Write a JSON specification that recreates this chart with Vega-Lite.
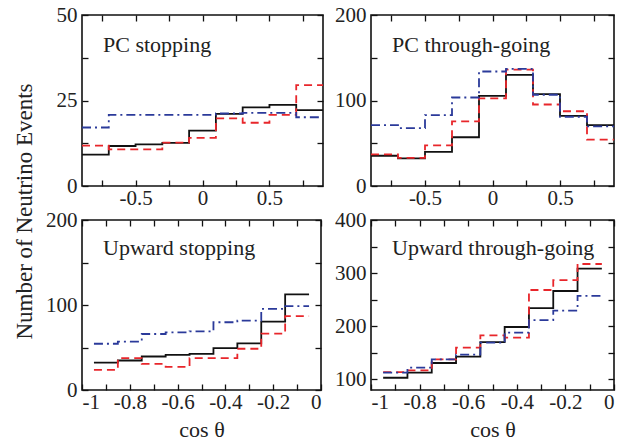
{
  "$schema": "https://vega.github.io/schema/vega-lite/v6.json",
  "padding": {"left": 12, "top": 3, "right": 5, "bottom": 5},
  "bounds": "flush",
  "columns": 2,
  "spacing": {"row": 34, "column": 48},
  "config": {
    "view": {"stroke": "#111", "strokeWidth": 1.6},
    "font": "Liberation Serif",
    "axis": {"domain": false, "grid": false, "tickColor": "#111", "tickWidth": 1.3, "tickSize": -6, "labelFont": "Liberation Serif", "labelFontSize": 21, "labelColor": "#222", "titleFont": "Liberation Serif", "titleFontWeight": "normal", "titleColor": "#222"},
    "axisX": {"labelPadding": 7},
    "axisY": {"labelPadding": 11},
    "title": {"font": "Liberation Serif", "fontSize": 22, "fontWeight": "normal", "color": "#222", "anchor": "start", "frame": "group", "orient": "top", "offset": -53, "dx": 21, "baseline": "alphabetic"}
  },
  "datasets": {
    "tl": [
      {"x": -0.9, "y": 9.2, "s": "Data"}, {"x": -0.7, "y": 11.7, "s": "Data"}, {"x": -0.5, "y": 12.2, "s": "Data"}, {"x": -0.3, "y": 12.6, "s": "Data"}, {"x": -0.1, "y": 16.2, "s": "Data"}, {"x": 0.1, "y": 21.1, "s": "Data"}, {"x": 0.3, "y": 23.0, "s": "Data"}, {"x": 0.5, "y": 23.7, "s": "Data"}, {"x": 0.7, "y": 22.2, "s": "Data"}, {"x": 0.9, "y": 22.2, "s": "Data"},
      {"x": -0.9, "y": 11.8, "s": "Osc"}, {"x": -0.7, "y": 10.7, "s": "Osc"}, {"x": -0.5, "y": 10.7, "s": "Osc"}, {"x": -0.3, "y": 12.7, "s": "Osc"}, {"x": -0.1, "y": 14.1, "s": "Osc"}, {"x": 0.1, "y": 19.8, "s": "Osc"}, {"x": 0.3, "y": 18.5, "s": "Osc"}, {"x": 0.5, "y": 20.8, "s": "Osc"}, {"x": 0.7, "y": 29.5, "s": "Osc"}, {"x": 0.9, "y": 29.5, "s": "Osc"},
      {"x": -0.9, "y": 17.1, "s": "NoOsc"}, {"x": -0.7, "y": 20.8, "s": "NoOsc"}, {"x": -0.5, "y": 20.8, "s": "NoOsc"}, {"x": -0.3, "y": 20.8, "s": "NoOsc"}, {"x": -0.1, "y": 20.8, "s": "NoOsc"}, {"x": 0.1, "y": 21.2, "s": "NoOsc"}, {"x": 0.3, "y": 21.4, "s": "NoOsc"}, {"x": 0.5, "y": 21.4, "s": "NoOsc"}, {"x": 0.7, "y": 20.1, "s": "NoOsc"}, {"x": 0.9, "y": 20.1, "s": "NoOsc"}
    ],
    "tr": [
      {"x": -0.9, "y": 35.4, "s": "Data"}, {"x": -0.7, "y": 32.3, "s": "Data"}, {"x": -0.5, "y": 39.8, "s": "Data"}, {"x": -0.3, "y": 57, "s": "Data"}, {"x": -0.1, "y": 105.5, "s": "Data"}, {"x": 0.1, "y": 130, "s": "Data"}, {"x": 0.3, "y": 107.5, "s": "Data"}, {"x": 0.5, "y": 82, "s": "Data"}, {"x": 0.7, "y": 71.3, "s": "Data"}, {"x": 0.9, "y": 71.3, "s": "Data"},
      {"x": -0.9, "y": 37, "s": "Osc"}, {"x": -0.7, "y": 33, "s": "Osc"}, {"x": -0.5, "y": 47.6, "s": "Osc"}, {"x": -0.3, "y": 75.6, "s": "Osc"}, {"x": -0.1, "y": 102.4, "s": "Osc"}, {"x": 0.1, "y": 136, "s": "Osc"}, {"x": 0.3, "y": 95.3, "s": "Osc"}, {"x": 0.5, "y": 87.4, "s": "Osc"}, {"x": 0.7, "y": 54.3, "s": "Osc"}, {"x": 0.9, "y": 54.3, "s": "Osc"},
      {"x": -0.9, "y": 71.3, "s": "NoOsc"}, {"x": -0.7, "y": 67.7, "s": "NoOsc"}, {"x": -0.5, "y": 83, "s": "NoOsc"}, {"x": -0.3, "y": 103.5, "s": "NoOsc"}, {"x": -0.1, "y": 133.9, "s": "NoOsc"}, {"x": 0.1, "y": 137, "s": "NoOsc"}, {"x": 0.3, "y": 106.7, "s": "NoOsc"}, {"x": 0.5, "y": 81, "s": "NoOsc"}, {"x": 0.7, "y": 69.7, "s": "NoOsc"}, {"x": 0.9, "y": 69.7, "s": "NoOsc"}
    ],
    "bl": [
      {"x": -0.95, "y": 32.3, "s": "Data"}, {"x": -0.85, "y": 34.7, "s": "Data"}, {"x": -0.75, "y": 39.4, "s": "Data"}, {"x": -0.65, "y": 41.4, "s": "Data"}, {"x": -0.55, "y": 42.6, "s": "Data"}, {"x": -0.45, "y": 49.3, "s": "Data"}, {"x": -0.35, "y": 54.8, "s": "Data"}, {"x": -0.25, "y": 80.5, "s": "Data"}, {"x": -0.15, "y": 112.4, "s": "Data"}, {"x": -0.05, "y": 112.4, "s": "Data"},
      {"x": -0.95, "y": 23.7, "s": "Osc"}, {"x": -0.85, "y": 37.5, "s": "Osc"}, {"x": -0.75, "y": 30.8, "s": "Osc"}, {"x": -0.65, "y": 27.2, "s": "Osc"}, {"x": -0.55, "y": 37.5, "s": "Osc"}, {"x": -0.45, "y": 37.5, "s": "Osc"}, {"x": -0.35, "y": 48.5, "s": "Osc"}, {"x": -0.25, "y": 66.3, "s": "Osc"}, {"x": -0.15, "y": 86.8, "s": "Osc"}, {"x": -0.05, "y": 86.8, "s": "Osc"},
      {"x": -0.95, "y": 54.4, "s": "NoOsc"}, {"x": -0.85, "y": 56.8, "s": "NoOsc"}, {"x": -0.75, "y": 65.9, "s": "NoOsc"}, {"x": -0.65, "y": 67.9, "s": "NoOsc"}, {"x": -0.55, "y": 69, "s": "NoOsc"}, {"x": -0.45, "y": 79.7, "s": "NoOsc"}, {"x": -0.35, "y": 81.7, "s": "NoOsc"}, {"x": -0.25, "y": 95.5, "s": "NoOsc"}, {"x": -0.15, "y": 98.6, "s": "NoOsc"}, {"x": -0.05, "y": 98.6, "s": "NoOsc"}
    ],
    "br": [
      {"x": -0.95, "y": 103.1, "s": "Data"}, {"x": -0.85, "y": 112.6, "s": "Data"}, {"x": -0.75, "y": 130.8, "s": "Data"}, {"x": -0.65, "y": 142.7, "s": "Data"}, {"x": -0.55, "y": 170.3, "s": "Data"}, {"x": -0.45, "y": 198.6, "s": "Data"}, {"x": -0.35, "y": 234.3, "s": "Data"}, {"x": -0.25, "y": 266.4, "s": "Data"}, {"x": -0.15, "y": 308.4, "s": "Data"}, {"x": -0.05, "y": 308.4, "s": "Data"},
      {"x": -0.95, "y": 113.8, "s": "Osc"}, {"x": -0.85, "y": 117, "s": "Osc"}, {"x": -0.75, "y": 137.7, "s": "Osc"}, {"x": -0.65, "y": 159.6, "s": "Osc"}, {"x": -0.55, "y": 182.9, "s": "Osc"}, {"x": -0.45, "y": 178.5, "s": "Osc"}, {"x": -0.35, "y": 268.2, "s": "Osc"}, {"x": -0.25, "y": 287, "s": "Osc"}, {"x": -0.15, "y": 317.2, "s": "Osc"}, {"x": -0.05, "y": 317.2, "s": "Osc"},
      {"x": -0.95, "y": 112.6, "s": "NoOsc"}, {"x": -0.85, "y": 122, "s": "NoOsc"}, {"x": -0.75, "y": 137.7, "s": "NoOsc"}, {"x": -0.65, "y": 146.5, "s": "NoOsc"}, {"x": -0.55, "y": 169, "s": "NoOsc"}, {"x": -0.45, "y": 187.9, "s": "NoOsc"}, {"x": -0.35, "y": 211.7, "s": "NoOsc"}, {"x": -0.25, "y": 229.3, "s": "NoOsc"}, {"x": -0.15, "y": 257, "s": "NoOsc"}, {"x": -0.05, "y": 257, "s": "NoOsc"}
    ]
  },
  "concat": [
    {
      "width": 241, "height": 171,
      "data": {"name": "tl"},
      "title": {"text": "PC stopping"},
      "layer": [
        {
          "mark": {"type": "line", "interpolate": "step-after", "strokeWidth": 1.8},
          "encoding": {
            "x": {"field": "x", "type": "quantitative", "scale": {"domain": [-0.9, 0.9], "nice": false, "zero": false}, "axis": {"orient": "bottom", "title": null, "values": [-0.75, -0.5, -0.25, 0, 0.25, 0.5, 0.75], "labelExpr": "datum.value == -0.5 ? '-0.5' : datum.value == 0 ? '0' : datum.value == 0.5 ? '0.5' : ''"}},
            "y": {"field": "y", "type": "quantitative", "scale": {"domain": [0, 50], "nice": false}, "axis": {"orient": "left", "values": [0, 12.5, 25, 37.5, 50], "labelExpr": "datum.value % 25 == 0 ? '' + datum.value : ''", "title": "Number of Neutrino Events", "titleFontSize": 23, "titleX": -58, "titleY": 196, "titleAngle": -90, "titleAlign": "center", "titleBaseline": "middle"}},
            "color": {"field": "s", "type": "nominal", "scale": {"domain": ["Data", "Osc", "NoOsc"], "range": ["#111111", "#e8262b", "#2b3a9a"]}, "legend": null},
            "strokeDash": {"field": "s", "type": "nominal", "scale": {"domain": ["Data", "Osc", "NoOsc"], "range": [[1, 0], [8, 5], [9, 4, 2, 4]]}, "legend": null}
          }
        },
        {
          "mark": {"type": "line", "opacity": 0},
          "encoding": {
            "x": {"field": "x", "type": "quantitative", "axis": {"orient": "top", "title": null, "labels": false, "values": [-0.75, -0.5, -0.25, 0, 0.25, 0.5, 0.75]}},
            "y": {"field": "y", "type": "quantitative", "axis": {"orient": "right", "title": null, "labels": false, "values": [0, 12.5, 25, 37.5, 50]}}
          }
        }
      ]
    },
    {
      "width": 243, "height": 171,
      "data": {"name": "tr"},
      "title": {"text": "PC through-going"},
      "layer": [
        {
          "mark": {"type": "line", "interpolate": "step-after", "strokeWidth": 1.8},
          "encoding": {
            "x": {"field": "x", "type": "quantitative", "scale": {"domain": [-0.9, 0.9], "nice": false, "zero": false}, "axis": {"orient": "bottom", "title": null, "values": [-0.75, -0.5, -0.25, 0, 0.25, 0.5, 0.75], "labelExpr": "datum.value == -0.5 ? '-0.5' : datum.value == 0 ? '0' : datum.value == 0.5 ? '0.5' : ''"}},
            "y": {"field": "y", "type": "quantitative", "scale": {"domain": [0, 200], "nice": false}, "axis": {"orient": "left", "title": null, "values": [0, 50, 100, 150, 200], "labelExpr": "datum.value % 100 == 0 ? '' + datum.value : ''"}},
            "color": {"field": "s", "type": "nominal", "scale": {"domain": ["Data", "Osc", "NoOsc"], "range": ["#111111", "#e8262b", "#2b3a9a"]}, "legend": null},
            "strokeDash": {"field": "s", "type": "nominal", "scale": {"domain": ["Data", "Osc", "NoOsc"], "range": [[1, 0], [8, 5], [9, 4, 2, 4]]}, "legend": null}
          }
        },
        {
          "mark": {"type": "line", "opacity": 0},
          "encoding": {
            "x": {"field": "x", "type": "quantitative", "axis": {"orient": "top", "title": null, "labels": false, "values": [-0.75, -0.5, -0.25, 0, 0.25, 0.5, 0.75]}},
            "y": {"field": "y", "type": "quantitative", "axis": {"orient": "right", "title": null, "labels": false, "values": [0, 50, 100, 150, 200]}}
          }
        }
      ]
    },
    {
      "width": 239, "height": 170,
      "data": {"name": "bl"},
      "title": {"text": "Upward stopping", "offset": -51},
      "layer": [
        {
          "mark": {"type": "line", "interpolate": "step-after", "strokeWidth": 1.8},
          "encoding": {
            "x": {"field": "x", "type": "quantitative", "scale": {"domain": [-1, 0], "nice": false, "zero": false}, "axis": {"orient": "bottom", "title": "cos θ", "titleFontSize": 22, "titleY": 46, "titleBaseline": "alphabetic", "values": [-1, -0.9, -0.8, -0.7, -0.6, -0.5, -0.4, -0.3, -0.2, -0.1, 0], "labelExpr": "datum.value == -1 ? '-1' : datum.value == -0.8 ? '-0.8' : datum.value == -0.6 ? '-0.6' : datum.value == -0.4 ? '-0.4' : datum.value == -0.2 ? '-0.2' : datum.value == 0 ? '0' : ''"}},
            "y": {"field": "y", "type": "quantitative", "scale": {"domain": [0, 200], "nice": false}, "axis": {"orient": "left", "title": null, "values": [0, 50, 100, 150, 200], "labelExpr": "datum.value % 100 == 0 ? '' + datum.value : ''"}},
            "color": {"field": "s", "type": "nominal", "scale": {"domain": ["Data", "Osc", "NoOsc"], "range": ["#111111", "#e8262b", "#2b3a9a"]}, "legend": null},
            "strokeDash": {"field": "s", "type": "nominal", "scale": {"domain": ["Data", "Osc", "NoOsc"], "range": [[1, 0], [8, 5], [9, 4, 2, 4]]}, "legend": null}
          }
        },
        {
          "mark": {"type": "line", "opacity": 0},
          "encoding": {
            "x": {"field": "x", "type": "quantitative", "axis": {"orient": "top", "title": null, "labels": false, "values": [-1, -0.9, -0.8, -0.7, -0.6, -0.5, -0.4, -0.3, -0.2, -0.1, 0]}},
            "y": {"field": "y", "type": "quantitative", "axis": {"orient": "right", "title": null, "labels": false, "values": [0, 50, 100, 150, 200]}}
          }
        }
      ]
    },
    {
      "width": 243, "height": 170,
      "data": {"name": "br"},
      "title": {"text": "Upward through-going", "offset": -51},
      "layer": [
        {
          "mark": {"type": "line", "interpolate": "step-after", "strokeWidth": 1.8},
          "encoding": {
            "x": {"field": "x", "type": "quantitative", "scale": {"domain": [-1, 0], "nice": false, "zero": false}, "axis": {"orient": "bottom", "title": "cos θ", "titleFontSize": 22, "titleY": 46, "titleBaseline": "alphabetic", "values": [-1, -0.9, -0.8, -0.7, -0.6, -0.5, -0.4, -0.3, -0.2, -0.1, 0], "labelExpr": "datum.value == -1 ? '-1' : datum.value == -0.8 ? '-0.8' : datum.value == -0.6 ? '-0.6' : datum.value == -0.4 ? '-0.4' : datum.value == -0.2 ? '-0.2' : datum.value == 0 ? '0' : ''"}},
            "y": {"field": "y", "type": "quantitative", "scale": {"domain": [80, 400], "nice": false, "zero": false}, "axis": {"orient": "left", "title": null, "values": [100, 150, 200, 250, 300, 350, 400], "labelExpr": "datum.value % 100 == 0 ? '' + datum.value : ''"}},
            "color": {"field": "s", "type": "nominal", "scale": {"domain": ["Data", "Osc", "NoOsc"], "range": ["#111111", "#e8262b", "#2b3a9a"]}, "legend": null},
            "strokeDash": {"field": "s", "type": "nominal", "scale": {"domain": ["Data", "Osc", "NoOsc"], "range": [[1, 0], [8, 5], [9, 4, 2, 4]]}, "legend": null}
          }
        },
        {
          "mark": {"type": "line", "opacity": 0},
          "encoding": {
            "x": {"field": "x", "type": "quantitative", "axis": {"orient": "top", "title": null, "labels": false, "values": [-1, -0.9, -0.8, -0.7, -0.6, -0.5, -0.4, -0.3, -0.2, -0.1, 0]}},
            "y": {"field": "y", "type": "quantitative", "axis": {"orient": "right", "title": null, "labels": false, "values": [100, 150, 200, 250, 300, 350, 400]}}
          }
        }
      ]
    }
  ]
}
